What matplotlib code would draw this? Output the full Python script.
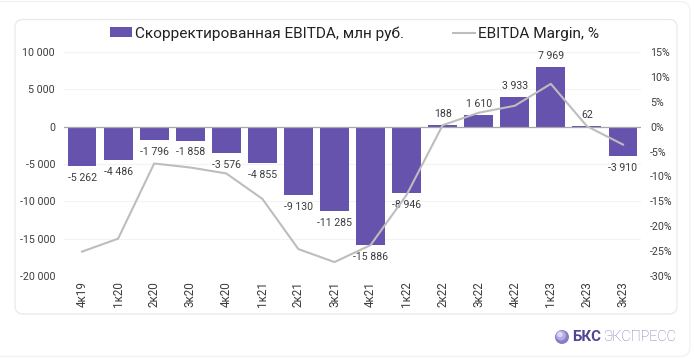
import matplotlib
matplotlib.use("Agg")
import matplotlib.pyplot as plt
from matplotlib.patches import FancyBboxPatch, Circle, Rectangle
from matplotlib.lines import Line2D

W, H = 694, 359

quarters = ["4к19", "1к20", "2к20", "3к20", "4к20", "1к21", "2к21", "3к21",
            "4к21", "1к22", "2к22", "3к22", "4к22", "1к23", "2к23", "3к23"]
ebitda = [-5262, -4486, -1796, -1858, -3576, -4855, -9130, -11285,
          -15886, -8946, 188, 1610, 3933, 7969, 62, -3910]
margin = [-25.1, -22.5, -7.4, -8.2, -9.4, -14.5, -24.6, -27.2,
          -23.8, -13.7, 0.3, 2.8, 4.2, 8.6, 0.1, -3.6]
left_ticks = [10000, 5000, 0, -5000, -10000, -15000, -20000]
right_ticks = [15, 10, 5, 0, -5, -10, -15, -20, -25, -30]
bar_name = "Скорректированная EBITDA, млн руб."
line_name = "EBITDA Margin, %"

BAR = "#6553AE"
LINE = "#BDBDBD"
TXT = "#3c3c3c"
plt.rcParams["font.family"] = ["Roboto", "DejaVu Sans"]


def spaced(v):
    return f"{v:,}".replace(",", " ")


fig = plt.figure(figsize=(W / 100, H / 100), dpi=100, facecolor="white")
bg = fig.add_axes([0, 0, 1, 1], zorder=0)
bg.set_xlim(0, W)
bg.set_ylim(H, 0)
bg.axis("off")
bg.add_patch(FancyBboxPatch((-20, 1.5), 20 + 690, 355, boxstyle="round,pad=0,rounding_size=10",
                            fc="white", ec="#f1f1f1", lw=0.9))
bg.add_patch(FancyBboxPatch((15, 19.5), 662, 294.5, boxstyle="round,pad=0,rounding_size=8",
                            fc="white", ec="#e9e9e9", lw=0.9))

ax = fig.add_axes([64 / W, 1 - 276 / H, 577 / W, 224 / H], zorder=1)
ax.patch.set_alpha(0)
ax.set_xlim(-0.5, 15.5)
ax.set_ylim(-20000, 10000)
ax.set_yticks(left_ticks)
ax.set_yticklabels([spaced(v) for v in left_ticks])
ax.set_xticks(range(len(quarters)))
ax.set_xticklabels(quarters, rotation=90, va="bottom", ha="center")
ax.tick_params(axis="x", length=0, pad=22.3, labelsize=8.4, labelcolor=TXT)
ax.tick_params(axis="y", length=0, pad=6.4, labelsize=7.7, labelcolor=TXT)
ax.grid(axis="y", color="#f3f3f3", lw=0.8)
ax.set_axisbelow(True)
for s in ax.spines.values():
    s.set_visible(False)

ax.bar(range(len(ebitda)), ebitda, width=0.8, color=BAR, zorder=2)
ax.axhline(0, color="#a8a8a8", lw=0.9, zorder=3)

for i, v in enumerate(ebitda):
    off = 8.0 if v > 0 else -8.6
    ax.annotate(spaced(v), (i, v), xytext=(0, off), textcoords="offset points",
                ha="center", va="center", fontsize=7.6, color=TXT, zorder=4)

ax2 = ax.twinx()
ax2.patch.set_alpha(0)
ax2.set_ylim(-30, 15)
ax2.set_yticks(right_ticks)
ax2.set_yticklabels([f"{v}%" for v in right_ticks])
ax2.tick_params(axis="y", length=0, pad=6.4, labelsize=7.7, labelcolor=TXT)
for s in ax2.spines.values():
    s.set_visible(False)
ax2.plot(range(len(margin)), margin, color=LINE, lw=1.5, zorder=5, solid_joinstyle="round")

handles = [Rectangle((0, 0), 1, 1, fc=BAR, ec="none"),
           Line2D([0], [0], color=LINE, lw=1.5)]
fig.legend(handles, [bar_name, line_name], ncols=2, loc="center left",
           bbox_to_anchor=(107 / W, 1 - 33.5 / H), frameon=False, fontsize=11.1,
           labelcolor="#222222", handlelength=1.4, handleheight=0.6, handletextpad=0.2,
           columnspacing=3.2, borderpad=0.2, borderaxespad=0)

bg.add_patch(Circle((562, 337), 7, fc="#8a7cc9", ec="none"))
bg.add_patch(Circle((561, 335.5), 5, fc="#b4abe0", ec="none"))
bg.add_patch(Circle((560, 334.5), 2.8, fc="#dcd8f2", ec="none"))
bg.text(572, 337, "БКС", fontsize=10.8, fontweight="bold", color="#4f4592", ha="left", va="center")
bg.text(603, 337, "ЭКСПРЕСС", fontsize=10.4, fontweight="light", color="#7a70b4", ha="left", va="center")

fig.savefig("out.png", dpi=100)
